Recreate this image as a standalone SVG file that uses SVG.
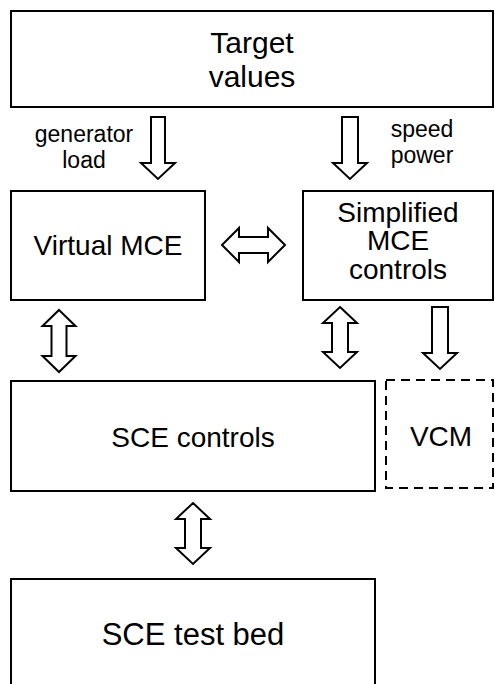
<svg xmlns="http://www.w3.org/2000/svg" width="495" height="684" viewBox="0 0 495 684">
<style>
.box{fill:#fff;stroke:#000;stroke-width:2}
.dash{fill:#fff;stroke:#000;stroke-width:2;stroke-dasharray:9 6}
.arr{fill:#fff;stroke:#000;stroke-width:2;stroke-linejoin:miter}
text{font-family:"Liberation Sans",Arial,sans-serif;fill:#000;text-anchor:middle}
.big{font-size:28px}
.lbl{font-size:23px}
</style>
<rect width="495" height="684" fill="#fff"/>
<g id="connectors">
<path class="arr" d="M151,117 H165 V163 H175 L158,179 L141,163 H151 Z"/>
<path class="arr" d="M342,117 H358 V163 H367 L350,179 L333,163 H342 Z"/>
<path class="arr" d="M222,245 L239,228 V237 H268 V228 L285,245 L268,262 V253 H239 V262 Z"/>
<path class="arr" d="M59,310 L75.5,326 H66.5 V356 H75.5 L59,372 L42.5,356 H51.5 V326 H42.5 Z"/>
<path class="arr" d="M340,307 L357,323 H348 V352 H357 L340,368 L323,352 H332 V323 H323 Z"/>
<path class="arr" d="M432,307 H448 V353 H457 L440,369 L423,353 H432 Z"/>
<path class="arr" d="M193,503 L210,519 H201 V548 H210 L193,564 L176,548 H185 V519 H176 Z"/>
<text class="lbl" x="84" y="142">generator</text>
<text class="lbl" x="84" y="168">load</text>
<text class="lbl" x="422" y="137">speed</text>
<text class="lbl" x="422" y="163">power</text>
</g>
<g id="target">
<rect class="box" x="11" y="11" width="482" height="96"/>
<text x="252" y="53" style="font-size:30px">Target</text>
<text x="252" y="87" style="font-size:30px">values</text>
</g>
<g id="virtual-mce">
<rect class="box" x="11" y="191" width="194" height="109"/>
<text class="big" x="108" y="255">Virtual MCE</text>
</g>
<g id="simplified-mce">
<rect class="box" x="303" y="191" width="190" height="109"/>
<text class="big" x="398" y="222">Simplified</text>
<text class="big" x="398" y="250">MCE</text>
<text class="big" x="398" y="279">controls</text>
</g>
<g id="sce-controls">
<rect class="box" x="11" y="381" width="364" height="110"/>
<text class="big" x="193" y="447">SCE controls</text>
</g>
<g id="vcm">
<rect class="dash" x="386" y="380" width="107" height="108"/>
<text class="big" x="441" y="446">VCM</text>
</g>
<g id="sce-test-bed">
<rect class="box" x="11" y="579" width="364" height="120"/>
<text x="193" y="645" style="font-size:31px">SCE test bed</text>
</g>
</svg>
